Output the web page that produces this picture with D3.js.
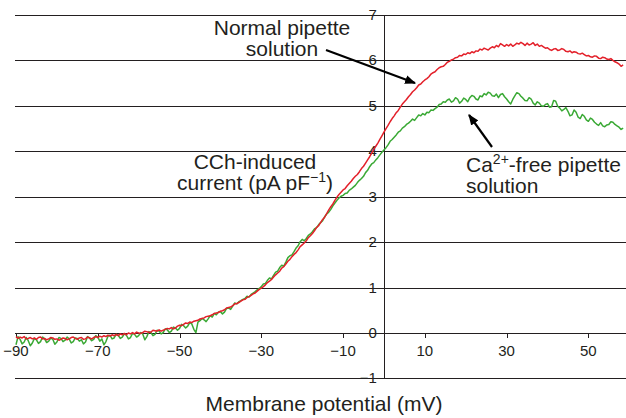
<!DOCTYPE html>
<html>
<head>
<meta charset="utf-8">
<script src="https://cdn.jsdelivr.net/npm/d3@7"></script>
<style>
  body { margin: 0; background: #fff; }
  svg { display: block; }
  text { font-family: "Liberation Sans", Arial, sans-serif; fill: #231f20; }
</style>
</head>
<body>
<script>
var w = 626;
var h = 418;

// normal pipette solution: [membrane potential (mV), current (pA pF-1)]
var normalTrace = [
  [-90,-0.08],[-89.5,-0.12],[-89,-0.09],[-88.5,-0.11],[-88,-0.08],[-87.5,-0.13],[-87,-0.12],[-86.5,-0.10],
  [-86,-0.13],[-85.5,-0.11],[-85,-0.14],[-84.5,-0.10],[-84,-0.09],[-83.5,-0.13],[-83,-0.12],[-82.5,-0.15],
  [-82,-0.13],[-81.5,-0.10],[-81,-0.11],[-80.5,-0.14],[-80,-0.13],[-79.5,-0.16],[-79,-0.14],[-78.5,-0.11],
  [-78,-0.12],[-77.5,-0.15],[-77,-0.13],[-76.5,-0.10],[-76,-0.09],[-75.5,-0.12],[-75,-0.14],[-74.5,-0.11],
  [-74,-0.10],[-73.5,-0.14],[-73,-0.13],[-72.5,-0.09],[-72,-0.11],[-71.5,-0.13],[-71,-0.10],[-70.5,-0.08],
  [-70,-0.10],[-69.5,-0.07],[-69,-0.09],[-68.5,-0.06],[-68,-0.08],[-67.5,-0.05],[-67,-0.07],[-66.5,-0.04],
  [-66,-0.06],[-65.5,-0.03],[-65,-0.06],[-64.5,-0.02],[-64,-0.04],[-63.5,-0.01],[-63,-0.04],[-62.5,0.00],
  [-62,-0.02],[-61.5,0.01],[-61,-0.02],[-60.5,0.02],[-60,0.00],[-59.5,-0.01],[-59,0.01],[-58.5,0.04],
  [-58,0.03],[-57.5,0.01],[-57,0.02],[-56.5,0.06],[-56,0.05],[-55.5,0.04],[-55,0.07],[-54.5,0.04],
  [-54,0.06],[-53.5,0.08],[-53,0.10],[-52.5,0.09],[-52,0.12],[-51.5,0.09],[-51,0.11],[-50.5,0.15],
  [-50,0.17],[-49.5,0.16],[-49,0.19],[-48.5,0.22],[-48,0.21],[-47.5,0.24],[-47,0.23],[-46.5,0.26],
  [-46,0.27],[-45.5,0.28],[-45,0.31],[-44.5,0.32],[-44,0.33],[-43.5,0.36],[-43,0.37],[-42.5,0.38],
  [-42,0.40],[-41.5,0.43],[-41,0.44],[-40.5,0.45],[-40,0.48],[-39.5,0.49],[-39,0.51],[-38.5,0.55],
  [-38,0.56],[-37.5,0.57],[-37,0.60],[-36.5,0.64],[-36,0.65],[-35.5,0.67],[-35,0.70],[-34.5,0.73],
  [-34,0.74],[-33.5,0.78],[-33,0.80],[-32.5,0.83],[-32,0.86],[-31.5,0.88],[-31,0.92],[-30.5,0.96],
  [-30,0.99],[-29.5,1.02],[-29,1.06],[-28.5,1.11],[-28,1.14],[-27.5,1.18],[-27,1.23],[-26.5,1.28],
  [-26,1.32],[-25.5,1.36],[-25,1.43],[-24.5,1.46],[-24,1.52],[-23.5,1.58],[-23,1.62],[-22.5,1.68],
  [-22,1.73],[-21.5,1.77],[-21,1.83],[-20.5,1.90],[-20,1.94],[-19.5,1.98],[-19,2.03],[-18.5,2.10],
  [-18,2.14],[-17.5,2.19],[-17,2.25],[-16.5,2.32],[-16,2.36],[-15.5,2.43],[-15,2.50],[-14.5,2.55],
  [-14,2.63],[-13.5,2.71],[-13,2.78],[-12.5,2.84],[-12,2.92],[-11.5,2.99],[-11,3.05],[-10.5,3.10],
  [-10,3.15],[-9.5,3.18],[-9,3.24],[-8.5,3.29],[-8,3.34],[-7.5,3.40],[-7,3.45],[-6.5,3.49],
  [-6,3.55],[-5.5,3.62],[-5,3.67],[-4.5,3.74],[-4,3.81],[-3.5,3.88],[-3,3.96],[-2.5,4.04],
  [-2,4.11],[-1.5,4.18],[-1,4.26],[-0.5,4.34],[0,4.42],[0.5,4.50],[1,4.57],[1.5,4.65],
  [2,4.72],[2.5,4.78],[3,4.85],[3.5,4.90],[4,4.97],[4.5,5.04],[5,5.09],[5.5,5.14],
  [6,5.20],[6.5,5.25],[7,5.31],[7.5,5.35],[8,5.40],[8.5,5.46],[9,5.48],[9.5,5.53],
  [10,5.57],[10.5,5.60],[11,5.64],[11.5,5.70],[12,5.73],[12.5,5.75],[13,5.80],[13.5,5.84],
  [14,5.86],[14.5,5.87],[15,5.91],[15.5,5.96],[16,5.98],[16.5,6.01],[17,6.03],[17.5,6.06],
  [18,6.07],[18.5,6.11],[19,6.10],[19.5,6.14],[20,6.13],[20.5,6.17],[21,6.15],[21.5,6.19],
  [22,6.17],[22.5,6.21],[23,6.20],[23.5,6.25],[24,6.23],[24.5,6.27],[25,6.25],[25.5,6.23],
  [26,6.27],[26.5,6.30],[27,6.28],[27.5,6.33],[28,6.30],[28.5,6.37],[29,6.34],[29.5,6.31],
  [30,6.35],[30.5,6.32],[31,6.36],[31.5,6.31],[32,6.34],[32.5,6.38],[33,6.36],[33.5,6.40],
  [34,6.37],[34.5,6.33],[35,6.38],[35.5,6.34],[36,6.36],[36.5,6.39],[37,6.33],[37.5,6.36],
  [38,6.31],[38.5,6.33],[39,6.30],[39.5,6.27],[40,6.28],[40.5,6.24],[41,6.22],[41.5,6.25],
  [42,6.26],[42.5,6.22],[43,6.23],[43.5,6.26],[44,6.24],[44.5,6.20],[45,6.19],[45.5,6.21],
  [46,6.17],[46.5,6.19],[47,6.18],[47.5,6.15],[48,6.14],[48.5,6.16],[49,6.13],[49.5,6.10],
  [50,6.11],[50.5,6.08],[51,6.07],[51.5,6.10],[52,6.09],[52.5,6.05],[53,6.04],[53.5,6.07],
  [54,6.06],[54.5,6.03],[55,6.02],[55.5,6.04],[56,6.00],[56.5,5.97],[57,5.95],[57.5,5.92],
  [58,5.87],[58.5,5.90]
];

// Ca2+-free pipette solution: [membrane potential (mV), current (pA pF-1)]
var caFreeTrace = [
  [-90,-0.26],[-89.5,-0.08],[-89,-0.14],[-88.5,-0.24],[-88,-0.20],[-87.5,-0.10],[-87,-0.17],[-86.5,-0.28],
  [-86,-0.22],[-85.5,-0.12],[-85,-0.15],[-84.5,-0.23],[-84,-0.19],[-83.5,-0.09],[-83,-0.13],[-82.5,-0.21],
  [-82,-0.18],[-81.5,-0.11],[-81,-0.14],[-80.5,-0.25],[-80,-0.20],[-79.5,-0.10],[-79,-0.12],[-78.5,-0.19],
  [-78,-0.16],[-77.5,-0.09],[-77,-0.13],[-76.5,-0.22],[-76,-0.19],[-75.5,-0.11],[-75,-0.12],[-74.5,-0.18],
  [-74,-0.15],[-73.5,-0.24],[-73,-0.20],[-72.5,-0.08],[-72,-0.11],[-71.5,-0.17],[-71,-0.14],[-70.5,-0.06],
  [-70,-0.09],[-69.5,-0.18],[-69,-0.13],[-68.5,-0.26],[-68,-0.19],[-67.5,-0.07],[-67,-0.05],[-66.5,-0.13],
  [-66,-0.11],[-65.5,-0.03],[-65,-0.05],[-64.5,-0.12],[-64,-0.09],[-63.5,-0.02],[-63,-0.05],[-62.5,-0.13],
  [-62,-0.10],[-61.5,-0.01],[-61,-0.03],[-60.5,-0.09],[-60,-0.06],[-59.5,0.01],[-59,-0.02],[-58.5,-0.15],
  [-58,-0.08],[-57.5,0.03],[-57,0.01],[-56.5,-0.06],[-56,-0.03],[-55.5,0.06],[-55,0.04],[-54.5,-0.02],
  [-54,0.01],[-53.5,0.09],[-53,0.07],[-52.5,0.01],[-52,0.04],[-51.5,0.13],[-51,0.11],[-50.5,0.06],
  [-50,0.10],[-49.5,0.19],[-49,0.16],[-48.5,0.11],[-48,0.15],[-47.5,0.23],[-47,0.20],[-46.5,0.08],
  [-46,0.01],[-45.5,0.24],[-45,0.27],[-44.5,0.32],[-44,0.29],[-43.5,0.25],[-43,0.31],[-42.5,0.38],
  [-42,0.35],[-41.5,0.43],[-41,0.40],[-40.5,0.46],[-40,0.47],[-39.5,0.42],[-39,0.46],[-38.5,0.54],
  [-38,0.55],[-37.5,0.52],[-37,0.59],[-36.5,0.66],[-36,0.64],[-35.5,0.69],[-35,0.71],[-34.5,0.74],
  [-34,0.76],[-33.5,0.81],[-33,0.79],[-32.5,0.85],[-32,0.88],[-31.5,0.91],[-31,0.95],[-30.5,0.98],
  [-30,1.02],[-29.5,1.08],[-29,1.09],[-28.5,1.16],[-28,1.21],[-27.5,1.19],[-27,1.27],[-26.5,1.34],
  [-26,1.36],[-25.5,1.44],[-25,1.49],[-24.5,1.47],[-24,1.56],[-23.5,1.66],[-23,1.70],[-22.5,1.72],
  [-22,1.79],[-21.5,1.87],[-21,1.92],[-20.5,2.01],[-20,2.06],[-19.5,2.03],[-19,2.08],[-18.5,2.15],
  [-18,2.18],[-17.5,2.23],[-17,2.29],[-16.5,2.32],[-16,2.38],[-15.5,2.43],[-15,2.47],[-14.5,2.56],
  [-14,2.62],[-13.5,2.66],[-13,2.72],[-12.5,2.80],[-12,2.86],[-11.5,2.92],[-11,2.97],[-10.5,3.01],
  [-10,3.03],[-9.5,3.07],[-9,3.08],[-8.5,3.14],[-8,3.17],[-7.5,3.21],[-7,3.25],[-6.5,3.31],
  [-6,3.36],[-5.5,3.40],[-5,3.45],[-4.5,3.53],[-4,3.58],[-3.5,3.66],[-3,3.72],[-2.5,3.75],
  [-2,3.81],[-1.5,3.86],[-1,3.92],[-0.5,3.98],[0,4.03],[0.5,4.08],[1,4.14],[1.5,4.22],
  [2,4.26],[2.5,4.31],[3,4.36],[3.5,4.42],[4,4.45],[4.5,4.51],[5,4.54],[5.5,4.59],
  [6,4.62],[6.5,4.66],[7,4.71],[7.5,4.68],[8,4.74],[8.5,4.80],[9,4.78],[9.5,4.83],
  [10,4.80],[10.5,4.86],[11,4.85],[11.5,4.91],[12,4.90],[12.5,4.94],[13,4.97],[13.5,5.03],
  [14,5.04],[14.5,5.09],[15,5.08],[15.5,5.13],[16,5.15],[16.5,5.08],[17,5.11],[17.5,5.18],
  [18,5.15],[18.5,5.06],[19,5.10],[19.5,5.17],[20,5.14],[20.5,5.09],[21,5.18],[21.5,5.23],
  [22,5.21],[22.5,5.15],[23,5.13],[23.5,5.22],[24,5.20],[24.5,5.27],[25,5.24],[25.5,5.30],
  [26,5.28],[26.5,5.22],[27,5.21],[27.5,5.26],[28,5.18],[28.5,5.25],[29,5.27],[29.5,5.20],
  [30,5.15],[30.5,5.09],[31,5.04],[31.5,5.14],[32,5.22],[32.5,5.29],[33,5.27],[33.5,5.21],
  [34,5.17],[34.5,5.12],[35,5.11],[35.5,5.18],[36,5.15],[36.5,5.06],[37,5.02],[37.5,5.09],
  [38,5.06],[38.5,5.00],[39,4.99],[39.5,5.03],[40,5.05],[40.5,4.97],[41,4.98],[41.5,5.12],
  [42,5.10],[42.5,4.99],[43,4.95],[43.5,4.89],[44,4.92],[44.5,4.96],[45,4.88],[45.5,4.78],
  [46,4.80],[46.5,4.91],[47,4.86],[47.5,4.75],[48,4.72],[48.5,4.81],[49,4.77],[49.5,4.69],
  [50,4.66],[50.5,4.73],[51,4.70],[51.5,4.64],[52,4.60],[52.5,4.57],[53,4.63],[53.5,4.56],
  [54,4.54],[54.5,4.58],[55,4.59],[55.5,4.65],[56,4.64],[56.5,4.59],[57,4.56],[57.5,4.53],
  [58,4.48],[58.5,4.51]
];

var yTicks = [7, 6, 5, 4, 3, 2, 1, 0, -1];
var xTicks = [-90, -70, -50, -30, -10, 10, 30, 50];

var xScale = d3.scaleLinear()
    .domain([-90, 59.2])
    .range([16, w]);

var yScale = d3.scaleLinear()
    .domain([-1, 7])
    .range([378.4, 15]);

var svg = d3.select("body")
    .append("svg")
    .attr("width", w)
    .attr("height", h);

// horizontal grid lines, one per y tick
svg.selectAll("line.grid")
    .data(yTicks)
    .enter()
    .append("line")
    .attr("class", "grid")
    .attr("x1", 15)
    .attr("x2", w)
    .attr("y1", function(d){ return Math.round(yScale(d)) + 0.5; })
    .attr("y2", function(d){ return Math.round(yScale(d)) + 0.5; })
    .attr("stroke", "#231f20")
    .attr("stroke-width", 1);

// vertical axis at 0 mV
svg.append("line")
    .attr("x1", Math.round(xScale(0)) + 0.5)
    .attr("x2", Math.round(xScale(0)) + 0.5)
    .attr("y1", Math.round(yScale(7)))
    .attr("y2", Math.round(yScale(-1)) + 1)
    .attr("stroke", "#231f20")
    .attr("stroke-width", 1);

// x ticks hanging from the zero line
svg.selectAll("line.xtick")
    .data(xTicks)
    .enter()
    .append("line")
    .attr("class", "xtick")
    .attr("x1", function(d){ return Math.round(xScale(d)) + 0.5; })
    .attr("x2", function(d){ return Math.round(xScale(d)) + 0.5; })
    .attr("y1", Math.round(yScale(0)))
    .attr("y2", Math.round(yScale(0)) + 5)
    .attr("stroke", "#231f20");

svg.selectAll("text.xlab")
    .data(xTicks)
    .enter()
    .append("text")
    .attr("class", "xlab")
    .attr("x", function(d){ return xScale(d); })
    .attr("y", 356)
    .attr("text-anchor", "middle")
    .attr("font-size", "15px")
    .text(function(d){ return d < 0 ? "\u2212" + Math.abs(d) : d; });

svg.selectAll("text.ylab")
    .data(yTicks)
    .enter()
    .append("text")
    .attr("class", "ylab")
    .attr("x", xScale(0) - 7)
    .attr("y", function(d){ return yScale(d) + 5; })
    .attr("text-anchor", "end")
    .attr("font-size", "15px")
    .text(function(d){ return d < 0 ? "\u2212" + Math.abs(d) : d; });

// traces
var line = d3.line()
    .x(function(d){ return xScale(d[0]); })
    .y(function(d){ return yScale(d[1]); });

svg.append("path")
    .datum(caFreeTrace)
    .attr("d", line)
    .attr("fill", "none")
    .attr("stroke", "#3aa935")
    .attr("stroke-width", 1.5)
    .attr("stroke-linejoin", "round");

svg.append("path")
    .datum(normalTrace)
    .attr("d", line)
    .attr("fill", "none")
    .attr("stroke", "#e3202a")
    .attr("stroke-width", 1.5)
    .attr("stroke-linejoin", "round");

// arrows
svg.append("defs").append("marker")
    .attr("id", "head")
    .attr("viewBox", "0 0 10 10")
    .attr("refX", 9)
    .attr("refY", 5)
    .attr("markerWidth", 5)
    .attr("markerHeight", 5)
    .attr("orient", "auto")
    .append("path")
    .attr("d", "M0,1 L10,5 L0,9 z")
    .attr("fill", "#000");

svg.append("line")
    .attr("x1", 326).attr("y1", 50)
    .attr("x2", 415).attr("y2", 83)
    .attr("stroke", "#000")
    .attr("stroke-width", 2.2)
    .attr("marker-end", "url(#head)");

svg.append("line")
    .attr("x1", 492).attr("y1", 147)
    .attr("x2", 469).attr("y2", 115)
    .attr("stroke", "#000")
    .attr("stroke-width", 2.2)
    .attr("marker-end", "url(#head)");

// annotations
var note = svg.append("g").attr("font-size", "21px");

note.append("text").attr("x", 282).attr("y", 35).attr("text-anchor", "middle").text("Normal pipette");
note.append("text").attr("x", 282).attr("y", 56).attr("text-anchor", "middle").text("solution");

note.append("text").attr("x", 255).attr("y", 169).attr("text-anchor", "middle").text("CCh-induced");
var cur = note.append("text").attr("x", 255).attr("y", 190).attr("text-anchor", "middle");
cur.append("tspan").text("current (pA pF");
cur.append("tspan").attr("dy", -8).attr("font-size", "14px").text("\u22121");
cur.append("tspan").attr("dy", 8).text(")");

var ca = note.append("text").attr("x", 466).attr("y", 172);
ca.append("tspan").text("Ca");
ca.append("tspan").attr("dy", -8).attr("font-size", "14px").text("2+");
ca.append("tspan").attr("dy", 8).text("-free pipette");
note.append("text").attr("x", 466).attr("y", 193).text("solution");

svg.append("text")
    .attr("x", 324)
    .attr("y", 411)
    .attr("text-anchor", "middle")
    .attr("font-size", "21px")
    .text("Membrane potential (mV)");
</script>
</body>
</html>
